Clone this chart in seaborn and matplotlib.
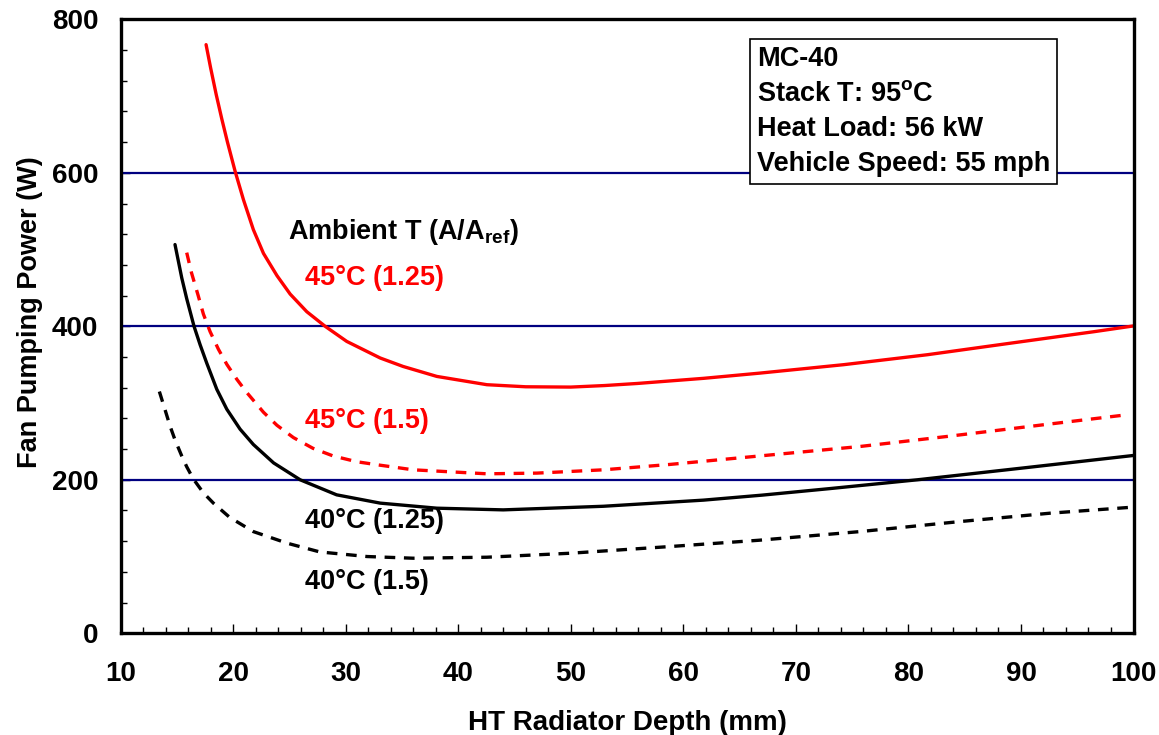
import numpy as np
import pandas as pd
import matplotlib
matplotlib.use("Agg")
import matplotlib.pyplot as plt
from matplotlib.ticker import MultipleLocator
import seaborn as sns

# ---- data ----
x_45_125 = [17.6, 18.0, 18.5, 19.0, 19.5, 20.18, 20.92, 21.8, 22.7, 23.9, 25.07, 26.55, 28.18,
            30.1, 33.07, 35.1, 38.1, 42.55, 46.0, 50.0, 53.0, 55.9, 61.8, 66.8, 74.25, 81.7,
            89.07, 96.5, 100.0]
y_45_125 = [767, 737, 702, 670, 640, 602, 565, 526, 495, 466, 442, 419, 400,
            380.3, 358.7, 347.7, 334.7, 323.9, 321.2, 320.8, 322.8, 325.5, 332.2, 339, 350, 363,
            378, 393, 400.5]

x_40_125 = [14.84, 15.44, 15.88, 16.53, 17.07, 17.66, 18.55, 19.44, 20.62, 21.8, 23.6, 25.96,
            29.2, 33.07, 38.1, 44.0, 52.9, 61.8, 67.0, 73.0, 80.8, 90.55, 100.0]
y_40_125 = [506.5, 463, 436, 400, 376, 352, 318, 292, 266, 246, 222, 200,
            180.4, 169.6, 163, 160.8, 165.5, 173.5, 180, 188.5, 200, 216, 231.7]

x_45_15 = [15.88, 16.3, 16.9, 17.36, 17.96, 18.7, 19.44, 20.33, 21.2, 22.7, 23.9, 25.36, 27.1,
           28.9, 31.0, 33.07, 36.0, 42.55, 47.0, 52.9, 58.8, 67.1, 75.7, 83.4, 92.0, 99.4]
y_45_15 = [496, 470, 440, 416, 393, 370, 350.5, 331, 314, 288, 271, 255, 241,
           231, 223.5, 219, 213, 207.8, 208.7, 213, 220, 231.5, 243.4, 256.4, 271.7, 284.7]

x_40_15 = [13.45, 13.96, 14.4, 14.84, 15.44, 15.88, 16.47, 17.36, 18.25, 19.7, 21.8, 24.8, 27.7,
           31.9, 36.0, 42.55, 49.96, 58.8, 66.7, 75.7, 84.6, 92.6, 99.9]
y_40_15 = [315, 291, 270, 252, 231, 217, 201, 183, 169.6, 151, 132.5, 117.4, 106,
           100, 97.8, 99.1, 104.3, 113, 121.2, 132.5, 145.6, 156.5, 164.3]

series_labels = ["45°C (1.25)", "45°C (1.5)", "40°C (1.25)", "40°C (1.5)"]
label_pos_x = [26.4, 26.4, 26.4, 26.4]
label_pos_y = [463, 277, 146.5, 67]
info_lines = ["MC-40", "Stack T: 95$^\\mathregular{o}$C", "Heat Load: 56 kW", "Vehicle Speed: 55 mph"]

# ---- style ----
sns.set_theme(style="ticks")
plt.rcParams["font.family"] = ["Liberation Sans", "DejaVu Sans"]
plt.rcParams["font.weight"] = "bold"
plt.rcParams["axes.labelweight"] = "bold"

fig = plt.figure(figsize=(11.59, 7.35), dpi=100)
ax = fig.add_axes([0.104, 0.1384, 0.874, 0.8353])

frames = []
for name, xs, ys in [("r125", x_45_125, y_45_125), ("r15", x_45_15, y_45_15),
                     ("k125", x_40_125, y_40_125), ("k15", x_40_15, y_40_15)]:
    frames.append(pd.DataFrame({"x": xs, "y": ys, "s": name}))
df = pd.concat(frames, ignore_index=True)

lw = 2.4
dash = (0, (3.2, 2.6))
sns.lineplot(data=df[df.s == "r125"], x="x", y="y", color="#ff0000", linewidth=lw, ax=ax, zorder=4)
sns.lineplot(data=df[df.s == "k125"], x="x", y="y", color="black", linewidth=lw, ax=ax, zorder=4)
sns.lineplot(data=df[df.s == "r15"], x="x", y="y", color="#ff0000", linewidth=lw, ax=ax,
             linestyle=dash, zorder=4)
sns.lineplot(data=df[df.s == "k15"], x="x", y="y", color="black", linewidth=lw, ax=ax,
             linestyle=dash, zorder=4)
for ln in ax.get_lines():
    ln.set_solid_joinstyle("round")

ax.set_xlim(10, 100)
ax.set_ylim(0, 800)
ax.xaxis.set_major_locator(MultipleLocator(10))
ax.xaxis.set_minor_locator(MultipleLocator(2))
ax.yaxis.set_major_locator(MultipleLocator(200))
ax.yaxis.set_minor_locator(MultipleLocator(40))

for yv in [200, 400, 600]:
    ax.axhline(yv, color="#000080", linewidth=1.6, zorder=2)

for sp in ax.spines.values():
    sp.set_visible(True)
    sp.set_color("black")
    sp.set_linewidth(2.4)
    sp.set_zorder(5)

ax.tick_params(axis="both", which="major", direction="in", length=6.5, width=1.0,
               labelsize=20, color="black", labelcolor="black")
ax.tick_params(axis="both", which="minor", direction="in", length=4.5, width=1.0, color="black")
ax.tick_params(axis="x", which="major", pad=20)
ax.tick_params(axis="y", which="major", pad=16)
ax.tick_params(top=False, right=False, which="both")
for lab in ax.get_xticklabels() + ax.get_yticklabels():
    lab.set_fontweight("bold")

ax.set_xlabel("HT Radiator Depth (mm)", fontsize=20, fontweight="bold", color="black")
ax.set_ylabel("Fan Pumping Power (W)", fontsize=19.5, fontweight="bold", color="black")
ax.xaxis.set_label_coords(0.5, -0.125)
ax.yaxis.set_label_coords(-0.077, 0.523)

ax.text(24.9, 523, "Ambient T (A/A$_\\mathregular{ref}$)", fontsize=19.5, fontweight="bold",
        color="black", va="center", ha="left", zorder=6)
colors = ["#ff0000", "#ff0000", "black", "black"]
for t, xx, yy, c in zip(series_labels, label_pos_x, label_pos_y, colors):
    ax.text(xx, yy, t, fontsize=19.5, fontweight="bold", color=c, va="center", ha="left", zorder=6)

ax.text(0.6285, 0.9565, "\n".join(info_lines), transform=ax.transAxes, fontsize=19.5,
        fontweight="bold", color="black", va="top", ha="left", linespacing=1.45, zorder=7,
        bbox=dict(boxstyle="square,pad=0.25", facecolor="white", edgecolor="black", linewidth=1.2))

fig.savefig("out.png", dpi=100, facecolor="white")
